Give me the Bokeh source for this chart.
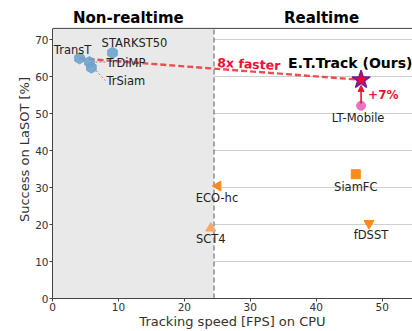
import math
from bokeh.plotting import figure
from bokeh.models import (BoxAnnotation, Label, Arrow, NormalHead, Range1d, FixedTicker)
from bokeh.core.properties import value
from bokeh.embed import file_html
from bokeh.resources import INLINE

# ---------------- data ----------------
blue_names = ["TransT", "STARKST50", "TrDiMP", "TrSiam"]
blue_fps = [4.1, 9.1, 5.6, 5.9]
blue_succ = [64.9, 66.4, 63.9, 62.4]

orange_names = ["SiamFC", "ECO-hc", "SCT4", "fDSST"]
orange_fps = [46.0, 25.1, 24.0, 48.0]
orange_succ = [33.6, 30.4, 19.0, 20.3]

lt_name = "LT-Mobile"
lt_fps = 46.8
lt_succ = 52.1

ours_name = "E.T.Track (Ours)"
ours_fps = 46.8
ours_succ = 59.1

realtime_threshold = 24.5
x_ticks = [0, 10, 20, 30, 40, 50]
y_ticks = [0, 10, 20, 30, 40, 50, 60, 70]
speedup_text = "8x faster"
gain_text = "+7%"
region_titles = ["Non-realtime", "Realtime"]

# ---------------- layout ----------------
W, H = 412, 331
LEFT, BOTTOM = 52, 33
XMAX = 54.6          # right end of the x axis
YTOP = 73.0          # top of the axes box
PX_PER_Y = 3.7
YEND = (H - BOTTOM) / PX_PER_Y   # extra room above the box for the titles
FONT = "DejaVu Sans"

p = figure(width=W, height=H, output_backend="svg", toolbar_location=None,
           x_range=Range1d(0, XMAX), y_range=Range1d(0, YEND),
           min_border_left=LEFT, min_border_right=0, min_border_top=0,
           min_border_bottom=BOTTOM)
p.background_fill_color = "white"
p.border_fill_color = "white"
p.outline_line_color = None
p.xgrid.visible = False
p.ygrid.grid_line_color = "#cfcfcf"
p.ygrid.grid_line_width = 1

for ax in (p.xaxis[0], p.yaxis[0]):
    ax.axis_line_color = "#444444"
    ax.major_tick_line_color = "#444444"
    ax.minor_tick_line_color = None
    ax.major_tick_out = 3
    ax.major_tick_in = 0
    ax.major_label_text_font = FONT
    ax.major_label_text_font_size = "10.5px"
    ax.major_label_text_color = "#333333"
    ax.axis_label_text_font = FONT
    ax.axis_label_text_font_size = "13px"
    ax.axis_label_text_font_style = "normal"
    ax.axis_label_text_color = "#333333"
    ax.major_label_standoff = 1
    ax.axis_label_standoff = 0
p.xaxis.ticker = FixedTicker(ticks=x_ticks)
p.yaxis.ticker = FixedTicker(ticks=y_ticks)
p.yaxis.bounds = (0, YTOP)
p.xaxis.axis_label = "Tracking speed [FPS] on CPU"
p.yaxis.axis_label = "Success on LaSOT [%]"

# shaded non-realtime area + threshold line + top spine
p.add_layout(BoxAnnotation(left=0, right=realtime_threshold, bottom=0, top=YTOP,
                           fill_color="#e9e9e9", fill_alpha=1, line_color=None,
                           level="underlay"))
p.line([realtime_threshold, realtime_threshold], [0, YTOP], line_color="#6b7785",
       line_dash="5 3", line_width=1.2)
p.line([0, XMAX], [YTOP, YTOP], line_color="#444444", line_width=1)

fw = W - LEFT
pxx = fw / XMAX
pxy = PX_PER_Y

# red dashed speed line (TransT -> ours)
p.line([blue_fps[0], ours_fps], [blue_succ[0], ours_succ], line_color="#ee3b3b",
       line_alpha=0.9, line_width=2.4, line_dash="6 3")

# arrow LT-Mobile -> ours
p.add_layout(Arrow(x_start=lt_fps, y_start=lt_succ + 0.6, x_end=ours_fps, y_end=ours_succ - 1.5,
                   line_color="#ee1133", line_width=1.6,
                   end=NormalHead(size=6, fill_color="#ee1133", line_color="#ee1133")))

# leader lines
lead = {"TrDiMP": (17, 0), "TrSiam": (15, 13)}
for n, (dx, dy) in lead.items():
    i = blue_names.index(n)
    x0, y0 = blue_fps[i], blue_succ[i]
    p.line([x0 + 2 / pxx, x0 + (dx - 1) / pxx], [y0, y0 - dy / pxy],
           line_color="#888888", line_dash="2 2", line_width=1)

# markers
p.scatter(blue_fps, blue_succ, marker="hex", size=11, fill_color="#6fa3cc",
          line_color="#6fa3cc", fill_alpha=0.9, angle=math.pi / 2)
omark = ["square", "triangle", "triangle", "inverted_triangle"]
oangle = [0, math.pi / 2, 0, 0]
ocol = ["#fb8a1e", "#fb8a1e", "#f6a86a", "#fb8a1e"]
osize = [9, 10, 10, 10]
p.scatter(orange_fps, orange_succ, marker=omark, angle=oangle, size=osize,
          fill_color=ocol, line_color=ocol)
p.scatter([lt_fps], [lt_succ], marker="circle", size=9, fill_color="#ea74c4",
          line_color="#ea74c4")
p.scatter([ours_fps], [ours_succ], marker="star", size=19, fill_color="#e8073a",
          line_color="#6b1fa0", line_width=1.5)

# labels
blue_off = {"TransT": (-7, -8, "center"), "STARKST50": (22, -10, "center"),
            "TrDiMP": (17, 1, "left"), "TrSiam": (15, 13, "left")}
for n, x, y in zip(blue_names, blue_fps, blue_succ):
    dx, dy, al = blue_off[n]
    p.text([x], [y], text=[n], x_offset=dx, y_offset=dy, text_align=al,
           text_baseline="middle", text_font=value(FONT), text_font_size="11.5px",
           text_color="#222222")
orange_off = {"SiamFC": (0, 13), "ECO-hc": (-1, 12), "SCT4": (0, 11), "fDSST": (2, 12)}
for n, x, y in zip(orange_names, orange_fps, orange_succ):
    dx, dy = orange_off[n]
    p.text([x], [y], text=[n], x_offset=dx, y_offset=dy, text_align="center",
           text_baseline="middle", text_font=value(FONT), text_font_size="11.5px",
           text_color="#222222")
p.text([lt_fps], [lt_succ], text=[lt_name], x_offset=-3, y_offset=12, text_align="center",
       text_baseline="middle", text_font=value(FONT), text_font_size="11.5px",
       text_color="#222222")

p.add_layout(Label(x=ours_fps, y=ours_succ, x_offset=-73, y_offset=17, text=ours_name,
                   text_font=FONT, text_font_size="14px", text_font_style="bold",
                   text_color="black", text_baseline="middle", text_align="left"))
p.add_layout(Label(x=ours_fps, y=ours_succ, x_offset=7, y_offset=-15, text=gain_text,
                   text_font=FONT, text_font_size="12px", text_font_style="bold",
                   text_color="#ee1133", text_baseline="middle", text_align="left"))
p.add_layout(Label(x=realtime_threshold + 0.5, y=63.8, text=speedup_text,
                   text_font=FONT, text_font_size="12.5px", text_font_style="bold",
                   text_color="#ee1133", text_baseline="middle", text_align="left",
                   angle=-0.05))
title_x = [11.5, 40.8]
for t, tx in zip(region_titles, title_x):
    p.add_layout(Label(x=tx, y=YTOP + 10 / PX_PER_Y, text=t, text_font=FONT,
                       text_font_size="15px", text_font_style="bold", text_color="black",
                       text_align="center", text_baseline="middle"))

open("out.html", "w").write(file_html(p, INLINE))
